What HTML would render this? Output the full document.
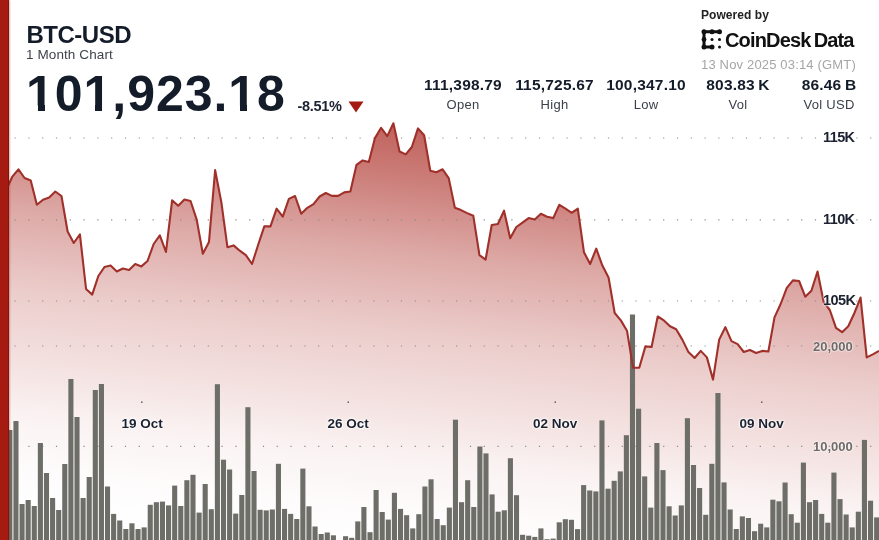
<!DOCTYPE html>
<html><head><meta charset="utf-8">
<style>
html,body{margin:0;padding:0;}
body{width:879px;height:540px;overflow:hidden;background:#fff;position:relative;font-family:"Liberation Sans",sans-serif;}
#txt{position:absolute;left:0;top:0;width:879px;height:540px;will-change:transform;}
.a{position:absolute;white-space:nowrap;line-height:1;}
#bar{position:absolute;left:0;top:0;width:8px;height:540px;background:#a51b12;border-right:1px solid #80170f;box-shadow:1px 0 1.5px rgba(165,28,20,0.35);}
svg{position:absolute;left:0;top:0;}
.t{font-weight:bold;color:#141c2a;}
.one{position:relative;display:inline-block;}
.one .g{display:inline-block;clip-path:inset(-5px -5px 13px -5px);}
.one i{position:absolute;left:11.67px;top:36px;width:6.85px;height:6px;background:#141c2a;}
.lab{position:absolute;white-space:nowrap;line-height:1;font-weight:bold;color:#1c2230;font-size:13.5px;text-shadow:0 0 2px #fff,0 0 2px #fff,0 0 3px #fff;}
.vlab{position:absolute;white-space:nowrap;line-height:1;font-weight:bold;color:#6e6a68;font-size:13px;text-shadow:0 0 2px #fff,0 0 2px #fff;}
.num{position:absolute;white-space:nowrap;line-height:1;font-weight:bold;color:#141c2a;font-size:15.5px;letter-spacing:0.2px;word-spacing:-1px;text-align:center;width:100px;}
.cap{position:absolute;white-space:nowrap;line-height:1;color:#3a3f48;font-size:13px;letter-spacing:0.3px;text-align:center;width:100px;}
</style></head>
<body>
<svg width="879" height="540" viewBox="0 0 879 540">
<defs>
<linearGradient id="g" x1="387" y1="120" x2="341.35" y2="534.98" gradientUnits="userSpaceOnUse">
<stop offset="0.0000" stop-color="#a51c14" stop-opacity="0.7"/>
<stop offset="0.0405" stop-color="#a51c14" stop-opacity="0.66"/>
<stop offset="0.1238" stop-color="#a51c14" stop-opacity="0.58"/>
<stop offset="0.3143" stop-color="#a51c14" stop-opacity="0.374"/>
<stop offset="0.5048" stop-color="#a51c14" stop-opacity="0.22"/>
<stop offset="0.6833" stop-color="#a51c14" stop-opacity="0.123"/>
<stop offset="0.7976" stop-color="#a51c14" stop-opacity="0.055"/>
<stop offset="0.9214" stop-color="#a51c14" stop-opacity="0.018"/>
<stop offset="1.0000" stop-color="#a51c14" stop-opacity="0.005"/>
</linearGradient>
</defs>
<path d="M0.00,196.0 L6.15,190.0 L12.29,176.7 L18.44,169.3 L24.59,178.0 L30.73,180.5 L36.88,204.8 L43.03,199.8 L49.17,197.4 L55.32,191.5 L61.47,196.0 L67.62,231.5 L73.76,243.0 L79.91,234.4 L86.06,289.0 L92.20,294.6 L98.35,276.0 L104.50,267.0 L110.64,265.6 L116.79,271.5 L122.94,268.5 L129.08,270.0 L135.23,264.0 L141.38,266.4 L147.52,261.0 L153.67,244.0 L159.82,235.3 L165.97,252.0 L172.11,200.4 L178.26,205.7 L184.41,199.5 L190.55,201.0 L196.70,219.6 L202.85,253.7 L208.99,241.9 L215.14,170.1 L221.29,201.9 L227.43,247.2 L233.58,245.4 L239.73,250.7 L245.87,255.2 L252.02,264.0 L258.17,244.8 L264.31,226.4 L270.46,226.4 L276.61,208.7 L282.76,216.7 L288.90,198.9 L295.05,196.0 L301.20,213.7 L307.34,207.8 L313.49,204.2 L319.64,196.5 L325.78,193.0 L331.93,195.9 L338.08,195.9 L344.22,192.4 L350.37,191.5 L356.52,164.8 L362.66,160.4 L368.81,161.9 L374.96,138.1 L381.10,127.8 L387.25,136.1 L393.40,123.3 L399.55,151.5 L405.69,154.4 L411.84,147.0 L417.99,128.4 L424.13,135.2 L430.28,170.7 L436.43,172.2 L442.57,169.3 L448.72,178.1 L454.87,207.8 L461.01,210.1 L467.16,213.1 L473.31,215.8 L479.45,255.2 L485.60,259.6 L491.75,225.0 L497.90,224.0 L504.04,210.7 L510.19,238.3 L516.34,227.0 L522.48,222.6 L528.63,218.1 L534.78,219.6 L540.92,213.7 L547.07,216.7 L553.22,218.1 L559.36,204.8 L565.51,208.7 L571.66,212.8 L577.80,208.7 L583.95,252.2 L590.10,264.0 L596.24,248.7 L602.39,265.6 L608.54,277.4 L614.69,313.0 L620.83,320.4 L626.98,330.7 L633.13,367.8 L639.27,367.8 L645.42,346.4 L651.57,347.0 L657.71,316.5 L663.86,320.4 L670.01,326.3 L676.15,329.3 L682.30,339.6 L688.45,352.1 L694.59,358.0 L700.74,350.9 L706.89,357.4 L713.03,379.6 L719.18,339.6 L725.33,327.2 L731.48,341.1 L737.62,344.1 L743.77,352.0 L749.92,350.0 L756.06,353.0 L762.21,350.9 L768.36,351.5 L774.50,317.4 L780.65,304.0 L786.80,287.8 L792.94,280.4 L799.09,281.0 L805.24,296.7 L811.38,290.7 L817.53,271.5 L823.68,302.0 L829.83,310.0 L835.97,327.8 L842.12,332.2 L848.27,326.3 L854.41,313.0 L860.56,297.6 L866.71,357.4 L872.85,354.4 L879.00,350.9 L879,540 L0,540 Z" fill="url(#g)"/>
<line x1="0.7" y1="138" x2="879" y2="138" stroke="#8a8a8a" stroke-width="1.2" stroke-dasharray="1.2 12.6"/>
<line x1="0.7" y1="219.8" x2="879" y2="219.8" stroke="#8a8a8a" stroke-width="1.2" stroke-dasharray="1.2 12.6"/>
<line x1="0.7" y1="301" x2="879" y2="301" stroke="#8a8a8a" stroke-width="1.2" stroke-dasharray="1.2 12.6"/>
<line x1="0.7" y1="346" x2="879" y2="346" stroke="#8a8a8a" stroke-width="1.2" stroke-dasharray="1.2 12.6"/>
<line x1="0.7" y1="446.3" x2="879" y2="446.3" stroke="#8a8a8a" stroke-width="1.2" stroke-dasharray="1.2 12.6"/>
<g fill="#6d6e68">
<rect x="1.20" y="480.0" width="5.1" height="60.0"/>
<rect x="7.31" y="430.0" width="5.1" height="110.0"/>
<rect x="13.41" y="421.0" width="5.1" height="119.0"/>
<rect x="19.51" y="504.0" width="5.1" height="36.0"/>
<rect x="25.62" y="500.0" width="5.1" height="40.0"/>
<rect x="31.72" y="506.0" width="5.1" height="34.0"/>
<rect x="37.83" y="443.0" width="5.1" height="97.0"/>
<rect x="43.93" y="473.0" width="5.1" height="67.0"/>
<rect x="50.04" y="498.0" width="5.1" height="42.0"/>
<rect x="56.14" y="510.0" width="5.1" height="30.0"/>
<rect x="62.24" y="464.0" width="5.1" height="76.0"/>
<rect x="68.35" y="379.0" width="5.1" height="161.0"/>
<rect x="74.45" y="417.0" width="5.1" height="123.0"/>
<rect x="80.56" y="498.0" width="5.1" height="42.0"/>
<rect x="86.66" y="477.0" width="5.1" height="63.0"/>
<rect x="92.76" y="390.0" width="5.1" height="150.0"/>
<rect x="98.87" y="384.0" width="5.1" height="156.0"/>
<rect x="104.97" y="486.5" width="5.1" height="53.5"/>
<rect x="111.08" y="513.9" width="5.1" height="26.1"/>
<rect x="117.18" y="520.5" width="5.1" height="19.5"/>
<rect x="123.29" y="529.0" width="5.1" height="11.0"/>
<rect x="129.39" y="523.3" width="5.1" height="16.7"/>
<rect x="135.49" y="529.0" width="5.1" height="11.0"/>
<rect x="141.60" y="527.4" width="5.1" height="12.6"/>
<rect x="147.70" y="504.8" width="5.1" height="35.2"/>
<rect x="153.81" y="502.2" width="5.1" height="37.8"/>
<rect x="159.91" y="501.6" width="5.1" height="38.4"/>
<rect x="166.01" y="505.4" width="5.1" height="34.6"/>
<rect x="172.12" y="485.6" width="5.1" height="54.4"/>
<rect x="178.22" y="506.0" width="5.1" height="34.0"/>
<rect x="184.33" y="480.2" width="5.1" height="59.8"/>
<rect x="190.43" y="474.8" width="5.1" height="65.2"/>
<rect x="196.54" y="512.6" width="5.1" height="27.4"/>
<rect x="202.64" y="484.0" width="5.1" height="56.0"/>
<rect x="208.74" y="509.2" width="5.1" height="30.8"/>
<rect x="214.85" y="384.2" width="5.1" height="155.8"/>
<rect x="220.95" y="459.7" width="5.1" height="80.3"/>
<rect x="227.06" y="469.5" width="5.1" height="70.5"/>
<rect x="233.16" y="513.6" width="5.1" height="26.4"/>
<rect x="239.26" y="495.0" width="5.1" height="45.0"/>
<rect x="245.37" y="407.2" width="5.1" height="132.8"/>
<rect x="251.47" y="471.0" width="5.1" height="69.0"/>
<rect x="257.58" y="509.8" width="5.1" height="30.2"/>
<rect x="263.68" y="510.4" width="5.1" height="29.6"/>
<rect x="269.79" y="509.5" width="5.1" height="30.5"/>
<rect x="275.89" y="463.8" width="5.1" height="76.2"/>
<rect x="281.99" y="508.9" width="5.1" height="31.1"/>
<rect x="288.10" y="513.9" width="5.1" height="26.1"/>
<rect x="294.20" y="519.0" width="5.1" height="21.0"/>
<rect x="300.31" y="468.6" width="5.1" height="71.4"/>
<rect x="306.41" y="506.3" width="5.1" height="33.7"/>
<rect x="312.51" y="526.5" width="5.1" height="13.5"/>
<rect x="318.62" y="534.0" width="5.1" height="6.0"/>
<rect x="324.72" y="532.5" width="5.1" height="7.5"/>
<rect x="330.83" y="535.3" width="5.1" height="4.7"/>
<rect x="343.04" y="536.2" width="5.1" height="3.8"/>
<rect x="349.14" y="537.8" width="5.1" height="2.2"/>
<rect x="355.24" y="521.4" width="5.1" height="18.6"/>
<rect x="361.35" y="507.0" width="5.1" height="33.0"/>
<rect x="367.45" y="532.2" width="5.1" height="7.8"/>
<rect x="373.56" y="490.0" width="5.1" height="50.0"/>
<rect x="379.66" y="512.0" width="5.1" height="28.0"/>
<rect x="385.76" y="519.6" width="5.1" height="20.4"/>
<rect x="391.87" y="492.8" width="5.1" height="47.2"/>
<rect x="397.97" y="508.9" width="5.1" height="31.1"/>
<rect x="404.08" y="515.2" width="5.1" height="24.8"/>
<rect x="410.18" y="528.4" width="5.1" height="11.6"/>
<rect x="416.29" y="514.2" width="5.1" height="25.8"/>
<rect x="422.39" y="486.5" width="5.1" height="53.5"/>
<rect x="428.49" y="479.3" width="5.1" height="60.7"/>
<rect x="434.60" y="519.0" width="5.1" height="21.0"/>
<rect x="440.70" y="525.2" width="5.1" height="14.8"/>
<rect x="446.81" y="507.6" width="5.1" height="32.4"/>
<rect x="452.91" y="419.7" width="5.1" height="120.3"/>
<rect x="459.01" y="502.2" width="5.1" height="37.8"/>
<rect x="465.12" y="480.2" width="5.1" height="59.8"/>
<rect x="471.22" y="507.0" width="5.1" height="33.0"/>
<rect x="477.33" y="446.5" width="5.1" height="93.5"/>
<rect x="483.43" y="453.4" width="5.1" height="86.6"/>
<rect x="489.54" y="494.4" width="5.1" height="45.6"/>
<rect x="495.64" y="511.7" width="5.1" height="28.3"/>
<rect x="501.74" y="510.3" width="5.1" height="29.7"/>
<rect x="507.85" y="458.2" width="5.1" height="81.8"/>
<rect x="513.95" y="495.2" width="5.1" height="44.8"/>
<rect x="520.06" y="534.8" width="5.1" height="5.2"/>
<rect x="526.16" y="535.7" width="5.1" height="4.3"/>
<rect x="532.26" y="536.9" width="5.1" height="3.1"/>
<rect x="538.37" y="528.4" width="5.1" height="11.6"/>
<rect x="544.47" y="539.2" width="5.1" height="0.8"/>
<rect x="550.58" y="538.6" width="5.1" height="1.4"/>
<rect x="556.68" y="522.3" width="5.1" height="17.7"/>
<rect x="562.79" y="519.2" width="5.1" height="20.8"/>
<rect x="568.89" y="519.8" width="5.1" height="20.2"/>
<rect x="574.99" y="529.1" width="5.1" height="10.9"/>
<rect x="581.10" y="485.1" width="5.1" height="54.9"/>
<rect x="587.20" y="490.5" width="5.1" height="49.5"/>
<rect x="593.31" y="491.4" width="5.1" height="48.6"/>
<rect x="599.41" y="420.4" width="5.1" height="119.6"/>
<rect x="605.51" y="488.7" width="5.1" height="51.3"/>
<rect x="611.62" y="480.8" width="5.1" height="59.2"/>
<rect x="617.72" y="471.4" width="5.1" height="68.6"/>
<rect x="623.83" y="435.2" width="5.1" height="104.8"/>
<rect x="629.93" y="314.5" width="5.1" height="225.5"/>
<rect x="636.04" y="408.7" width="5.1" height="131.3"/>
<rect x="642.14" y="476.4" width="5.1" height="63.6"/>
<rect x="648.24" y="507.6" width="5.1" height="32.4"/>
<rect x="654.35" y="443.0" width="5.1" height="97.0"/>
<rect x="660.45" y="470.1" width="5.1" height="69.9"/>
<rect x="666.56" y="506.3" width="5.1" height="33.7"/>
<rect x="672.66" y="515.5" width="5.1" height="24.5"/>
<rect x="678.76" y="505.4" width="5.1" height="34.6"/>
<rect x="684.87" y="418.2" width="5.1" height="121.8"/>
<rect x="690.97" y="465.0" width="5.1" height="75.0"/>
<rect x="697.08" y="488.0" width="5.1" height="52.0"/>
<rect x="703.18" y="514.8" width="5.1" height="25.2"/>
<rect x="709.29" y="463.8" width="5.1" height="76.2"/>
<rect x="715.39" y="393.0" width="5.1" height="147.0"/>
<rect x="721.49" y="482.4" width="5.1" height="57.6"/>
<rect x="727.60" y="509.5" width="5.1" height="30.5"/>
<rect x="733.70" y="529.0" width="5.1" height="11.0"/>
<rect x="739.81" y="516.4" width="5.1" height="23.6"/>
<rect x="745.91" y="518.0" width="5.1" height="22.0"/>
<rect x="752.01" y="531.2" width="5.1" height="8.8"/>
<rect x="758.12" y="523.7" width="5.1" height="16.3"/>
<rect x="764.22" y="527.4" width="5.1" height="12.6"/>
<rect x="770.33" y="499.7" width="5.1" height="40.3"/>
<rect x="776.43" y="501.3" width="5.1" height="38.7"/>
<rect x="782.54" y="482.5" width="5.1" height="57.5"/>
<rect x="788.64" y="514.2" width="5.1" height="25.8"/>
<rect x="794.74" y="522.7" width="5.1" height="17.3"/>
<rect x="800.85" y="462.6" width="5.1" height="77.4"/>
<rect x="806.95" y="502.2" width="5.1" height="37.8"/>
<rect x="813.06" y="500.0" width="5.1" height="40.0"/>
<rect x="819.16" y="513.9" width="5.1" height="26.1"/>
<rect x="825.26" y="522.7" width="5.1" height="17.3"/>
<rect x="831.37" y="472.6" width="5.1" height="67.4"/>
<rect x="837.47" y="499.1" width="5.1" height="40.9"/>
<rect x="843.58" y="514.5" width="5.1" height="25.5"/>
<rect x="849.68" y="527.4" width="5.1" height="12.6"/>
<rect x="855.79" y="511.7" width="5.1" height="28.3"/>
<rect x="861.89" y="439.9" width="5.1" height="100.1"/>
<rect x="867.99" y="500.7" width="5.1" height="39.3"/>
<rect x="874.10" y="517.4" width="5.1" height="22.6"/>
</g>
<path d="M0.00,196.0 L6.15,190.0 L12.29,176.7 L18.44,169.3 L24.59,178.0 L30.73,180.5 L36.88,204.8 L43.03,199.8 L49.17,197.4 L55.32,191.5 L61.47,196.0 L67.62,231.5 L73.76,243.0 L79.91,234.4 L86.06,289.0 L92.20,294.6 L98.35,276.0 L104.50,267.0 L110.64,265.6 L116.79,271.5 L122.94,268.5 L129.08,270.0 L135.23,264.0 L141.38,266.4 L147.52,261.0 L153.67,244.0 L159.82,235.3 L165.97,252.0 L172.11,200.4 L178.26,205.7 L184.41,199.5 L190.55,201.0 L196.70,219.6 L202.85,253.7 L208.99,241.9 L215.14,170.1 L221.29,201.9 L227.43,247.2 L233.58,245.4 L239.73,250.7 L245.87,255.2 L252.02,264.0 L258.17,244.8 L264.31,226.4 L270.46,226.4 L276.61,208.7 L282.76,216.7 L288.90,198.9 L295.05,196.0 L301.20,213.7 L307.34,207.8 L313.49,204.2 L319.64,196.5 L325.78,193.0 L331.93,195.9 L338.08,195.9 L344.22,192.4 L350.37,191.5 L356.52,164.8 L362.66,160.4 L368.81,161.9 L374.96,138.1 L381.10,127.8 L387.25,136.1 L393.40,123.3 L399.55,151.5 L405.69,154.4 L411.84,147.0 L417.99,128.4 L424.13,135.2 L430.28,170.7 L436.43,172.2 L442.57,169.3 L448.72,178.1 L454.87,207.8 L461.01,210.1 L467.16,213.1 L473.31,215.8 L479.45,255.2 L485.60,259.6 L491.75,225.0 L497.90,224.0 L504.04,210.7 L510.19,238.3 L516.34,227.0 L522.48,222.6 L528.63,218.1 L534.78,219.6 L540.92,213.7 L547.07,216.7 L553.22,218.1 L559.36,204.8 L565.51,208.7 L571.66,212.8 L577.80,208.7 L583.95,252.2 L590.10,264.0 L596.24,248.7 L602.39,265.6 L608.54,277.4 L614.69,313.0 L620.83,320.4 L626.98,330.7 L633.13,367.8 L639.27,367.8 L645.42,346.4 L651.57,347.0 L657.71,316.5 L663.86,320.4 L670.01,326.3 L676.15,329.3 L682.30,339.6 L688.45,352.1 L694.59,358.0 L700.74,350.9 L706.89,357.4 L713.03,379.6 L719.18,339.6 L725.33,327.2 L731.48,341.1 L737.62,344.1 L743.77,352.0 L749.92,350.0 L756.06,353.0 L762.21,350.9 L768.36,351.5 L774.50,317.4 L780.65,304.0 L786.80,287.8 L792.94,280.4 L799.09,281.0 L805.24,296.7 L811.38,290.7 L817.53,271.5 L823.68,302.0 L829.83,310.0 L835.97,327.8 L842.12,332.2 L848.27,326.3 L854.41,313.0 L860.56,297.6 L866.71,357.4 L872.85,354.4 L879.00,350.9" fill="none" stroke="#a0302a" stroke-width="2.1" stroke-linejoin="round"/>
<rect x="141.2" y="401.5" width="1.3" height="1.3" fill="#333"/>
<rect x="347.6" y="401.5" width="1.3" height="1.3" fill="#333"/>
<rect x="554.6" y="401.5" width="1.3" height="1.3" fill="#333"/>
<rect x="761.1" y="401.5" width="1.3" height="1.3" fill="#333"/>
</svg>
<div id="bar"></div>
<div id="txt">

<div class="a t" id="sym" style="left:26.5px;top:23px;font-size:24px;letter-spacing:-0.5px;">BTC-USD</div>
<div class="a" id="sub" style="left:26px;top:47.5px;font-size:13.5px;letter-spacing:0.1px;color:#40444c;">1 Month Chart</div>
<div class="a t" id="price" style="left:26px;top:68.5px;font-size:50px;letter-spacing:0.95px;"><span class="one"><span class="g">1</span><i></i></span>0<span class="one"><span class="g">1</span><i></i></span>,923.<span class="one"><span class="g">1</span><i></i></span>8</div>
<div class="a t" id="chg" style="left:297.5px;top:99px;font-size:14.5px;letter-spacing:-0.3px;color:#1c2230;">-8.51%</div>
<svg style="left:348px;top:101px;position:absolute" width="16" height="12" viewBox="0 0 16 12"><path d="M0.5,0.5 L15.5,0.5 L8,11.5 Z" fill="#a51b12"/></svg>

<div class="num" style="left:413px;top:77px;">111,398.79</div>
<div class="cap" style="left:413px;top:98px;">Open</div>
<div class="num" style="left:504.5px;top:77px;">115,725.67</div>
<div class="cap" style="left:504.5px;top:98px;">High</div>
<div class="num" style="left:596px;top:77px;">100,347.10</div>
<div class="cap" style="left:596px;top:98px;">Low</div>
<div class="num" style="left:688px;top:77px;">803.83 K</div>
<div class="cap" style="left:688px;top:98px;">Vol</div>
<div class="num" style="left:779px;top:77px;">86.46 B</div>
<div class="cap" style="left:779px;top:98px;">Vol USD</div>

<div class="a" id="pow" style="left:701px;top:9px;font-size:12px;font-weight:bold;color:#222;letter-spacing:0.05px;">Powered by</div>
<svg style="position:absolute;left:700px;top:28px" width="24" height="22" viewBox="0 0 24 22">
<g fill="#111" stroke="#111">
<path d="M4,3.75 L19.5,3.75 M4,3.75 L4,19 L12,19" stroke-width="3" fill="none"/>
<circle cx="4" cy="3.75" r="2.5" stroke="none"/><circle cx="12" cy="3.75" r="2.5" stroke="none"/><circle cx="19.5" cy="3.75" r="2.5" stroke="none"/>
<circle cx="4" cy="11.5" r="2.4" stroke="none"/><circle cx="4" cy="19" r="2.5" stroke="none"/><circle cx="12" cy="19" r="2.5" stroke="none"/>
<circle cx="12" cy="11.5" r="1.5" stroke="none"/><circle cx="19.5" cy="11.5" r="1.5" stroke="none"/><circle cx="19.5" cy="19" r="1.5" stroke="none"/>
</g></svg>
<div class="a" id="logo" style="left:725px;top:29.5px;font-size:20px;font-weight:bold;color:#111;letter-spacing:-0.85px;word-spacing:-1.5px;">CoinDesk Data</div>
<div class="a" id="date" style="left:701px;top:58px;font-size:13px;letter-spacing:0.17px;color:#a6a6a6;">13 Nov 2025 03:14 (GMT)</div>

<div class="lab" style="left:823px;top:130px;font-size:14.5px;letter-spacing:-0.6px;">115K</div>
<div class="lab" style="left:823px;top:211.5px;font-size:14.5px;letter-spacing:-0.6px;">110K</div>
<div class="lab" style="left:823px;top:293px;font-size:14.5px;letter-spacing:-0.6px;">105K</div>
<div class="vlab" style="left:813px;top:340px;">20,000</div>
<div class="vlab" style="left:813px;top:440px;">10,000</div>

<div class="lab" style="left:121.5px;top:417px;">19 Oct</div>
<div class="lab" style="left:327.5px;top:417px;">26 Oct</div>
<div class="lab" style="left:533px;top:417px;">02 Nov</div>
<div class="lab" style="left:739.5px;top:417px;">09 Nov</div>
</div>
</body></html>
